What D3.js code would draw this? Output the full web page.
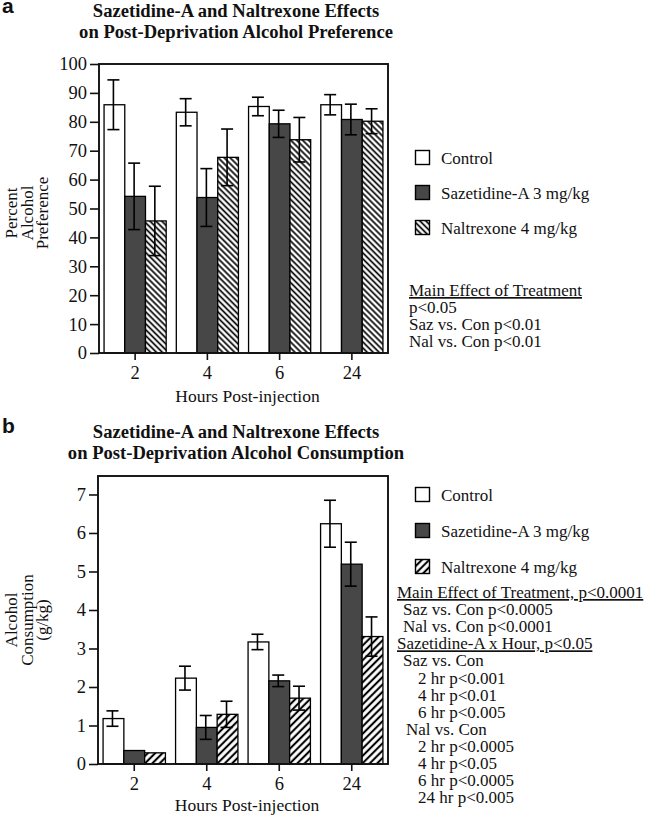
<!DOCTYPE html>
<html>
<head>
<meta charset="utf-8">
<script src="https://cdn.jsdelivr.net/npm/d3@7"></script>
<style>
  html, body { margin: 0; padding: 0; background: #fff; }
  svg { display: block; }
  text { font-family: "Liberation Serif", "Times New Roman", serif; fill: #111; }
</style>
</head>
<body>
<svg id="chart" width="649" height="817"></svg>
<script>
// ---------- data ----------
const hours = ["2", "4", "6", "24"];
const seriesNames = ["Control", "Sazetidine-A 3 mg/kg", "Naltrexone 4 mg/kg"];

// Panel a: percent alcohol preference
const prefControl = [85.9, 83.3, 85.3, 85.9];
const prefSaz     = [54.2, 53.8, 79.3, 80.8];
const prefNal     = [45.7, 67.7, 73.8, 80.2];
const prefControlSE = [8.6, 4.7, 3.2, 3.5];
const prefSazSE     = [11.5, 10.0, 4.7, 5.3];
const prefNalSE     = [12.0, 9.8, 7.7, 4.3];
const prefTicks = [0, 10, 20, 30, 40, 50, 60, 70, 80, 90, 100];

// Panel b: alcohol consumption (g/kg)
const consControl = [1.18, 2.23, 3.17, 6.24];
const consSaz     = [0.35, 0.95, 2.16, 5.19];
const consNal     = [0.29, 1.29, 1.71, 3.31];
const consControlSE = [0.20, 0.31, 0.20, 0.61];
const consSazSE     = [0, 0.31, 0.15, 0.57];
const consNalSE     = [0, 0.34, 0.31, 0.51];
const consTicks = [0, 1, 2, 3, 4, 5, 6, 7];

const statsA = [
  {t: "Main Effect of Treatment", indent: 0, u: true},
  {t: "p<0.05", indent: 0},
  {t: "Saz vs. Con p<0.01", indent: 0},
  {t: "Nal vs. Con p<0.01", indent: 0}
];
const statsB = [
  {t: "Main Effect of Treatment, p<0.0001", indent: 0, u: true},
  {t: "Saz vs. Con p<0.0005", indent: 6},
  {t: "Nal vs. Con p<0.0001", indent: 6},
  {t: "Sazetidine-A x Hour, p<0.05", indent: 0, u: true},
  {t: "Saz vs. Con", indent: 6},
  {t: "2 hr p<0.001", indent: 21},
  {t: "4 hr p<0.01", indent: 21},
  {t: "6 hr p<0.005", indent: 21},
  {t: "Nal vs. Con", indent: 9},
  {t: "2 hr p<0.0005", indent: 21},
  {t: "4 hr p<0.05", indent: 21},
  {t: "6 hr p<0.0005", indent: 21},
  {t: "24 hr p<0.005", indent: 21}
];

// ---------- drawing ----------
const svg = d3.select("#chart");
const defs = svg.append("defs");
const DARK = "#474747";

function hatch(id, angle, size, sw) {
  const p = defs.append("pattern")
    .attr("id", id).attr("patternUnits", "userSpaceOnUse")
    .attr("width", size).attr("height", size)
    .attr("patternTransform", `rotate(${angle})`);
  p.append("rect").attr("width", size).attr("height", size).attr("fill", "#fff");
  p.append("line").attr("x1", size / 2).attr("x2", size / 2)
    .attr("y1", 0).attr("y2", size)
    .attr("stroke", "#000").attr("stroke-width", sw);
}
hatch("hatchA", -45, 4.2, 1.7);
hatch("hatchB", 45, 5.2, 2.1);

function panel(cfg) {
  const g = svg.append("g");
  const x0 = d3.scaleBand().domain(hours).range([cfg.left, cfg.right])
    .paddingInner(0.14).paddingOuter(0.07);
  const x1 = d3.scaleBand().domain(seriesNames).range([0, x0.bandwidth()]);
  const y = d3.scaleLinear().domain(cfg.domain).range([cfg.bottom, cfg.top]);
  const fills = ["#fff", DARK, `url(#${cfg.hatch})`];

  // panel letter
  g.append("text").attr("x", 2).attr("y", cfg.letterY)
    .style("font-family", "'Liberation Sans', Arial, sans-serif")
    .style("font-weight", "bold").style("font-size", "21px")
    .text(cfg.letter);

  // title
  cfg.title.forEach((t, i) => {
    g.append("text").attr("x", 236).attr("y", cfg.titleY + i * 20.5)
      .attr("text-anchor", "middle")
      .style("font-weight", "bold").style("font-size", "18.6px").text(t);
  });

  // bars
  const rows = hours.map((h, i) => ({
    h, vals: cfg.means.map(m => m[i]), ses: cfg.ses.map(s => s[i])
  }));
  const grp = g.selectAll(".grp").data(rows).join("g")
    .attr("transform", d => `translate(${x0(d.h)},0)`);
  grp.selectAll("rect").data(d => d.vals.map((v, k) => ({v, k, se: d.ses[k]})))
    .join("rect")
    .attr("x", d => x1(seriesNames[d.k]))
    .attr("width", x1.bandwidth())
    .attr("y", d => y(d.v))
    .attr("height", d => y(0) - y(d.v))
    .attr("fill", d => fills[d.k])
    .attr("stroke", "#000").attr("stroke-width", 1.3);

  // error bars
  const eb = grp.selectAll(".eb").data(d => d.vals.map((v, k) => ({v, k, se: d.ses[k]})).filter(e => e.se > 0))
    .join("g").attr("class", "eb")
    .attr("transform", d => `translate(${x1(seriesNames[d.k]) + x1.bandwidth() / 2 - 1},0)`);
  eb.append("line").attr("x1", 0).attr("x2", 0)
    .attr("y1", d => y(d.v - d.se)).attr("y2", d => y(d.v + d.se))
    .attr("stroke", "#000").attr("stroke-width", 1.6);
  eb.append("line").attr("x1", -6).attr("x2", 6)
    .attr("y1", d => y(d.v + d.se)).attr("y2", d => y(d.v + d.se))
    .attr("stroke", "#000").attr("stroke-width", 1.6);
  eb.append("line").attr("x1", -6).attr("x2", 6)
    .attr("y1", d => y(d.v - d.se)).attr("y2", d => y(d.v - d.se))
    .attr("stroke", "#000").attr("stroke-width", 1.6);

  // frame
  g.append("rect").attr("x", cfg.left).attr("y", y.range()[1])
    .attr("width", cfg.right - cfg.left).attr("height", y(0) - y.range()[1])
    .attr("fill", "none").attr("stroke", "#111").attr("stroke-width", 1.9);

  // axes
  const ya = g.append("g").attr("transform", `translate(${cfg.left},0)`)
    .call(d3.axisLeft(y).tickValues(cfg.ticks).tickSize(9).tickPadding(3).tickFormat(d3.format("d")));
  ya.select(".domain").remove();
  ya.selectAll("line").attr("stroke", "#111").attr("stroke-width", 1.6);
  ya.selectAll("text").style("font-size", "18.5px")
    .style("font-family", "'Liberation Serif', serif").attr("fill", "#111");

  const xa = g.append("g").attr("transform", `translate(0,${cfg.bottom})`)
    .call(d3.axisBottom(x0).tickSize(7).tickPadding(6));
  xa.select(".domain").remove();
  xa.selectAll("line").attr("stroke", "#111").attr("stroke-width", 1.6);
  xa.selectAll("text").style("font-size", "18.5px")
    .style("font-family", "'Liberation Serif', serif").attr("fill", "#111");

  g.append("text").attr("x", (cfg.left + cfg.right) / 2 + 4).attr("y", cfg.xLabelY)
    .attr("text-anchor", "middle").style("font-size", "17.5px").text("Hours Post-injection");

  // y title
  const yt = g.append("text")
    .attr("transform", `translate(0,${cfg.yTitleY}) rotate(-90)`)
    .attr("text-anchor", "middle").style("font-size", "17px");
  cfg.yTitle.forEach((t, i) => {
    yt.append("tspan").attr("x", 0).attr("y", 17 + i * 15.5).text(t);
  });

  // legend
  const lg = g.append("g");
  seriesNames.forEach((s, k) => {
    const yy = cfg.legendY + k * cfg.legendStep;
    lg.append("rect").attr("x", 415.5).attr("y", yy - 13.5).attr("width", 14).attr("height", 14)
      .attr("fill", k === 2 ? `url(#${cfg.hatch})` : fills[k])
      .attr("stroke", "#000").attr("stroke-width", 1.4);
    lg.append("text").attr("x", 441).attr("y", yy).style("font-size", "17px").text(s);
  });

  // stats text
  cfg.stats.forEach((s, i) => {
    const t = g.append("text").attr("x", cfg.statsX + s.indent)
      .attr("y", cfg.statsY + i * 17.1)
      .style("font-size", "17px").text(s.t);
    if (s.u) t.attr("text-decoration", "underline");
  });
}

panel({
  letter: "a", letterY: 13,
  title: ["Sazetidine-A and Naltrexone Effects", "on Post-Deprivation Alcohol Preference"],
  titleY: 17,
  left: 99, right: 388, top: 64, bottom: 353,
  domain: [0, 100], ticks: prefTicks,
  means: [prefControl, prefSaz, prefNal], ses: [prefControlSE, prefSazSE, prefNalSE],
  hatch: "hatchA",
  xLabelY: 402,
  yTitle: ["Percent", "Alcohol", "Preference"], yTitleY: 213,
  legendY: 164, legendStep: 35,
  stats: statsA, statsX: 409, statsY: 296
});

panel({
  letter: "b", letterY: 433,
  title: ["Sazetidine-A and Naltrexone Effects", "on Post-Deprivation Alcohol Consumption"],
  titleY: 438,
  left: 98, right: 388, top: 476, bottom: 764,
  domain: [0, 7.48], ticks: consTicks,
  means: [consControl, consSaz, consNal], ses: [consControlSE, consSazSE, consNalSE],
  hatch: "hatchB",
  xLabelY: 811,
  yTitle: ["Alcohol", "Consumption", "(g/kg)"], yTitleY: 620,
  legendY: 501, legendStep: 36,
  stats: statsB, statsX: 397, statsY: 598
});
</script>
</body>
</html>
